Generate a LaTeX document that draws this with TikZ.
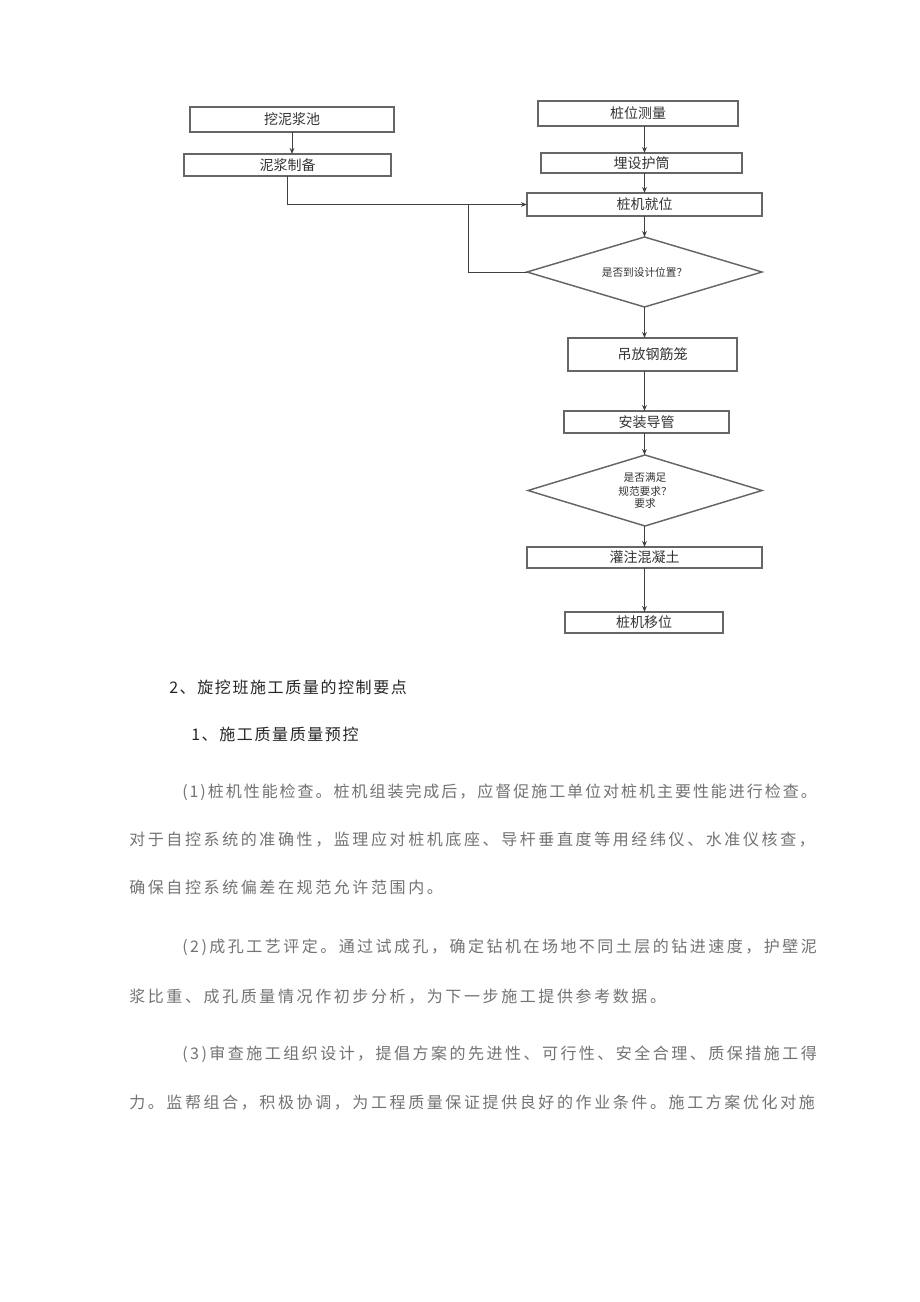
\documentclass[tikz,border=0pt]{standalone}
\usepackage{fontspec}
\setmainfont{Noto Sans CJK SC}
\newfontfamily\cjk{Noto Sans CJK SC}
\newfontfamily\bodyfont[LetterSpace=16.25]{Noto Sans CJK SC}
\usepackage{tikz}
\usetikzlibrary{shapes.geometric,arrows.meta,positioning}
\tikzset{
 fc box/.style={draw=black!60,line width=1.1pt,fill=white,inner sep=0pt,
                outer sep=0pt,font=\fontsize{10.5}{12}\cjk,text=black!80},
 fc check/.style={diamond,aspect=3.4,draw=black!60,line width=1.1pt,inner sep=0pt,
                  outer sep=0pt,font=\fontsize{8}{10.5}\cjk,text=black!80,
                  align=center},
 fc flow/.style={black!75,line width=0.7pt,-{Stealth[length=4.5pt,width=3.5pt]}},
 fc line/.style={black!75,line width=0.7pt},
 doc head/.style={anchor=west,inner sep=0pt,text=black!85,
                  font=\fontsize{12}{14}\bodyfont\addfontfeature{LetterSpace=10}},
 doc line/.style={anchor=west,inner sep=0pt,text=black!55,
                  font=\fontsize{12}{14}\bodyfont}
}
\begin{document}
\begin{tikzpicture}[x=0.75pt,y=-0.75pt]
 \useasboundingbox (0,0) rectangle (920,1302);
 \fill[white] (0,0) rectangle (920,1302);

 % left column
 \node[fc box,minimum width=153pt,minimum height=18.75pt] (pool) at (292,119.5) {挖泥浆池};
 \node[fc box,minimum width=155.25pt,minimum height=16.5pt] (slurry) at (287.5,165) {泥浆制备};

 % main column
 \node[fc box,minimum width=150pt,minimum height=18.75pt] (survey) at (638,113.5) {桩位测量};
 \node[fc box,minimum width=150.75pt,minimum height=15pt] (casing) at (641.5,163) {埋设护筒};
 \node[fc box,minimum width=176.25pt,minimum height=17.25pt] (rig) at (644.5,204.5) {桩机就位};
 \node[fc check,minimum width=176.25pt,minimum height=52.5pt] (check1) at (644.5,272) {是否到设计位置？};
 \node[fc box,minimum width=126.75pt,minimum height=24.75pt] (cage) at (652.5,354.5) {吊放钢筋笼};
 \node[fc box,minimum width=123.75pt,minimum height=16.5pt] (pipe) at (646.5,422) {安装导管};
 \node[fc check,minimum width=175.5pt,minimum height=53.25pt] (check2) at (645,490.5)
   {是否满足\\规范要求？\\[-2pt]要求};
 \node[fc box,minimum width=176.25pt,minimum height=15.75pt] (pour) at (644.5,557.5) {灌注混凝土};
 \node[fc box,minimum width=118.5pt,minimum height=15.75pt] (move) at (644,622.5) {桩机移位};
 \coordinate (back) at (468,272);

 \draw[fc flow] (pool.south) -- (pool.south |- slurry.north);
 \draw[fc flow] (slurry.south) |- (rig.west);
 \draw[fc line] (check1.west) -- (back) -- (back |- rig.west);
 \draw[fc flow] (survey.south -| rig) -- (casing.north -| rig);
 \draw[fc flow] (casing.south -| rig) -- (rig.north);
 \draw[fc flow] (rig.south) -- (check1.north);
 \draw[fc flow] (check1.south) -- (check1.south |- cage.north);
 \draw[fc flow] (cage.south -| rig) -- (pipe.north -| rig);
 \draw[fc flow] (pipe.south -| rig) -- (check2.north -| rig);
 \draw[fc flow] (check2.south -| rig) -- (pour.north);
 \draw[fc flow] (pour.south) -- (move.north -| pour);

 % text below the chart
 \node[doc head] (head2) at (169,687) {2、旋挖班施工质量的控制要点};
 \node[doc head] (head1) at (191,734) {1、施工质量质量预控};
 \node[doc line] (p1a) at (182,792)
   {\addfontfeature{LetterSpace=12.3}(1)桩机性能检查。桩机组装完成后，应督促施工单位对桩机主要性能进行检查。};
 \node[doc line] (p1b) at (129,840) {对于自控系统的准确性，监理应对桩机底座、导杆垂直度等用经纬仪、水准仪核查，};
 \node[doc line] (p1c) at (129,887) {确保自控系统偏差在规范允许范围内。};
 \node[doc line] (p2a) at (182,947)
   {\addfontfeature{LetterSpace=15.5}(2)成孔工艺评定。通过试成孔，确定钻机在场地不同土层的钻进速度，护壁泥};
 \node[doc line] (p2b) at (129,997) {浆比重、成孔质量情况作初步分析，为下一步施工提供参考数据。};
 \node[doc line] (p3a) at (182,1054)
   {\addfontfeature{LetterSpace=15.5}(3)审查施工组织设计，提倡方案的先进性、可行性、安全合理、质保措施工得};
 \node[doc line] (p3b) at (129,1103) {力。监帮组合，积极协调，为工程质量保证提供良好的作业条件。施工方案优化对施};
\end{tikzpicture}
\end{document}
